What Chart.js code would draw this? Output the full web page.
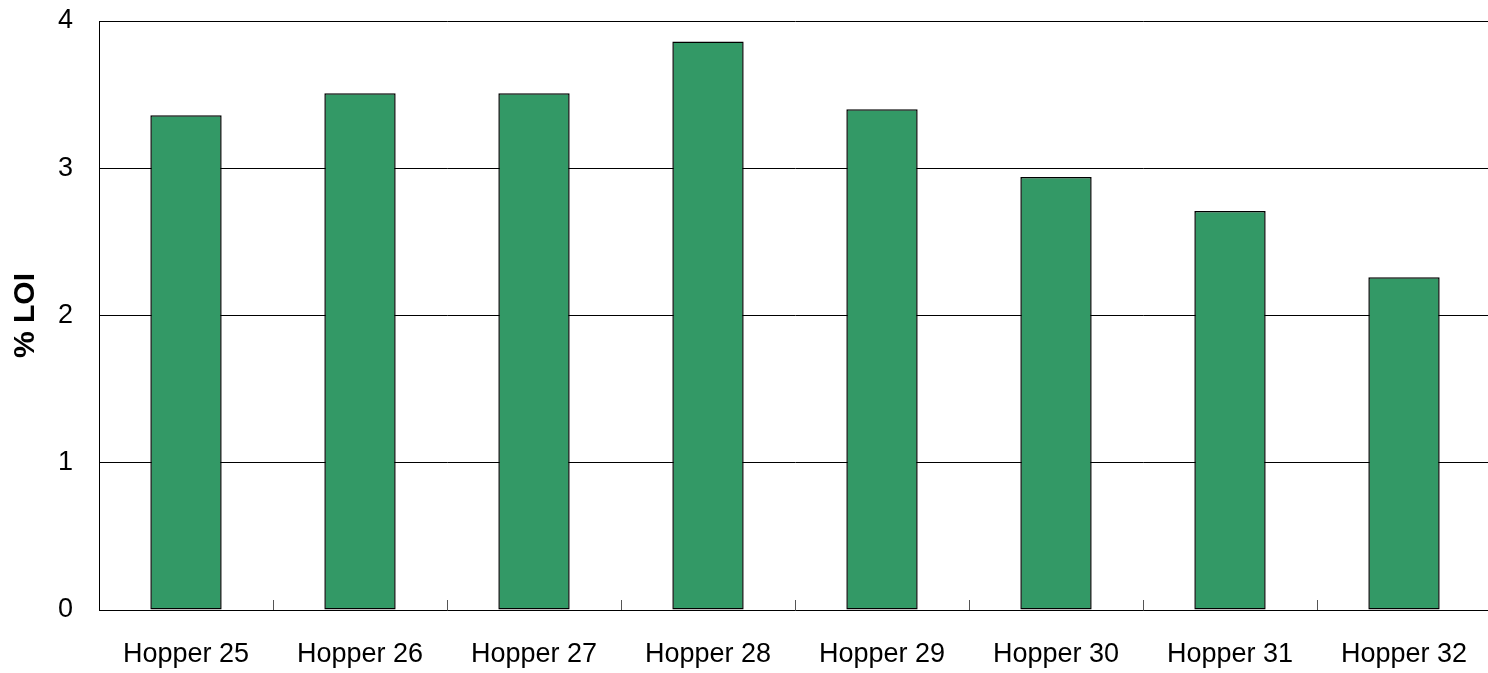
<!DOCTYPE html>
<html>
<head>
<meta charset="utf-8">
<script src="https://cdn.jsdelivr.net/npm/chart.js@4/dist/chart.umd.min.js"></script>
<style>
  html, body { margin: 0; padding: 0; background: #fff; overflow: hidden; }
  #wrap { width: 1491px; height: 673px; }
</style>
</head>
<body>
<div id="wrap"><canvas id="loiChart"></canvas></div>
<script>
const hoppers = ['Hopper 25', 'Hopper 26', 'Hopper 27', 'Hopper 28', 'Hopper 29', 'Hopper 30', 'Hopper 31', 'Hopper 32'];
const loiValues = [3.36, 3.51, 3.51, 3.86, 3.40, 2.94, 2.71, 2.26];
const yTicks = [0, 1, 2, 3, 4];

const FONT = '"Liberation Sans", Arial, sans-serif';

// small inward tick marks on the x axis between categories
const categoryTicks = {
  id: 'categoryTicks',
  afterDatasetsDraw(chart) {
    const { ctx, chartArea, scales: { x } } = chart;
    ctx.save();
    ctx.strokeStyle = '#555';
    ctx.lineWidth = 1;
    for (let i = 1; i < hoppers.length; i++) {
      const px = Math.round((x.getPixelForTick(i - 1) + x.getPixelForTick(i)) / 2) + 0.5;
      ctx.beginPath();
      ctx.moveTo(px, chartArea.bottom);
      ctx.lineTo(px, chartArea.bottom - 10);
      ctx.stroke();
    }
    ctx.restore();
  }
};

const ctx = document.getElementById('loiChart').getContext('2d');
new Chart(ctx, {
  type: 'bar',
  data: {
    labels: hoppers,
    datasets: [{
      label: '% LOI',
      data: loiValues,
      backgroundColor: '#339966',
      borderColor: '#000',
      borderWidth: 1.5,
      borderSkipped: false,
      barPercentage: 0.41,
      categoryPercentage: 1
    }]
  },
  options: {
    responsive: true,
    maintainAspectRatio: false,
    animation: false,
    layout: { padding: { left: 8, top: 21, right: 0, bottom: 0 } },
    plugins: {
      legend: { display: false },
      tooltip: { enabled: false }
    },
    scales: {
      x: {
        grid: { display: false, drawTicks: false },
        border: { display: false },
        ticks: {
          color: '#000',
          padding: 28,
          maxRotation: 0,
          autoSkip: false,
          font: { family: FONT, size: 27 }
        },
        afterFit(scale) {
          scale.height = 63;
          scale.paddingLeft = 0;
          scale.paddingRight = 0;
        }
      },
      y: {
        min: 0,
        max: 4,
        afterBuildTicks(scale) { scale.ticks = yTicks.map(v => ({ value: v })); },
        grid: { color: '#000', lineWidth: 1, drawTicks: false },
        border: { display: true, color: '#000', width: 1 },
        ticks: {
          color: '#000',
          padding: 26,
          font: { family: FONT, size: 27 }
        },
        title: {
          display: true,
          text: '% LOI',
          color: '#000',
          padding: 0,
          font: { family: FONT, size: 30, weight: 'bold', lineHeight: 1.2 }
        },
        afterFit(scale) {
          scale.width = 91;
          scale.paddingTop = 0;
          scale.paddingBottom = 0;
        }
      }
    }
  },
  plugins: [categoryTicks]
});
</script>
</body>
</html>
